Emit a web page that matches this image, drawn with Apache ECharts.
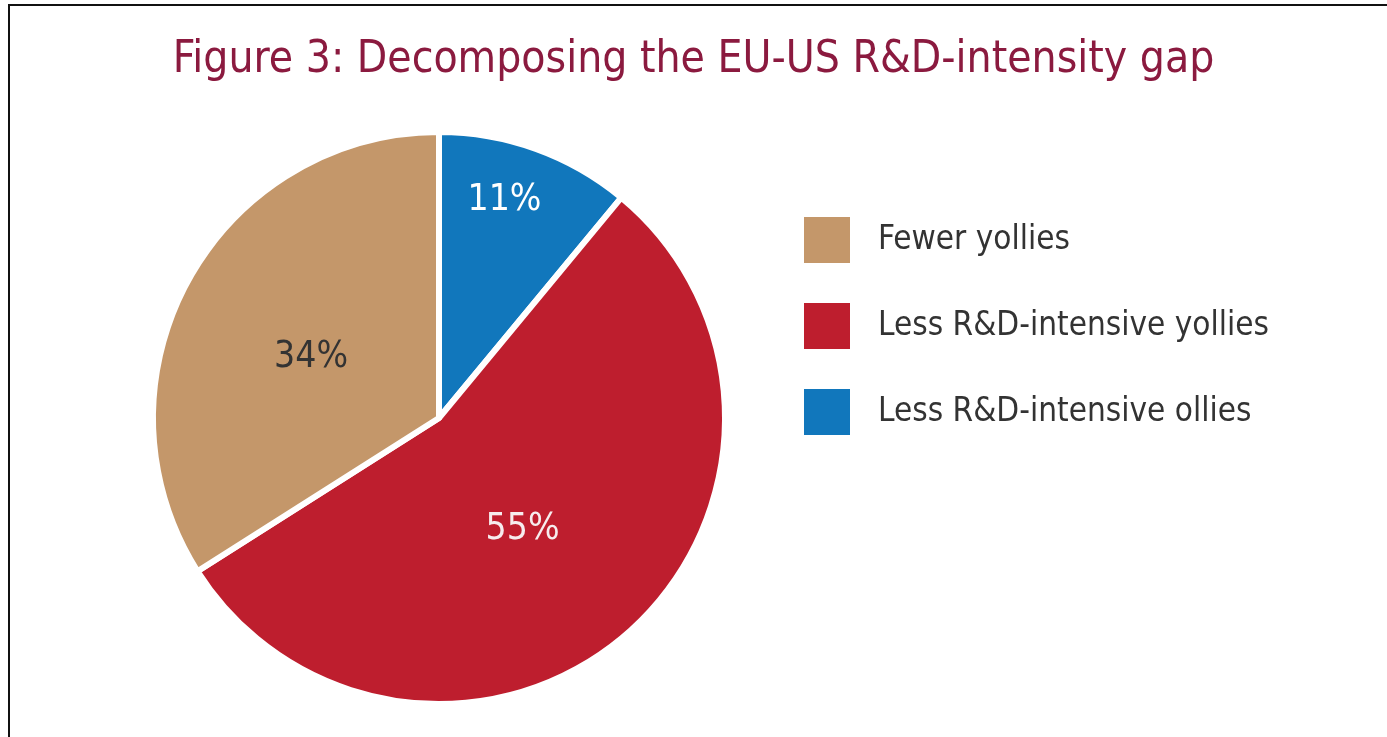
<!DOCTYPE html>
<html>
<head>
<meta charset="utf-8">
<script src="https://cdn.jsdelivr.net/npm/echarts@6/dist/echarts.min.js"></script>
<style>
html,body{margin:0;padding:0;background:#fff;}
#chart{width:1387px;height:737px;}
</style>
</head>
<body>
<div id="chart"></div>
<script>
const titleText = 'Figure 3: Decomposing the EU-US R&D-intensity gap';
const categories = ['Less R&D-intensive ollies', 'Less R&D-intensive yollies', 'Fewer yollies'];
const values = [11, 55, 34];
const colors = ['#1177BC', '#BE1E2E', '#C4976A'];
const labelColors = ['#FFFFFF', '#F7ECEE', '#333333'];
const legendOrder = ['Fewer yollies', 'Less R&D-intensive yollies', 'Less R&D-intensive ollies'];

const FONT = "'Liberation Sans Narrow', 'DejaVu Sans Condensed', 'Liberation Sans', sans-serif";

const chart = echarts.init(document.getElementById('chart'), null, {renderer: 'canvas'});
const option = {
  backgroundColor: '#fff',
  animation: false,
  title: {
    text: titleText,
    left: 'center',
    top: 39,
    padding: 0,
    textStyle: {color: '#8B1A3F', fontSize: 44, fontWeight: 'normal', fontFamily: FONT}
  },
  graphic: [{
    type: 'rect',
    shape: {x: 9, y: 5, width: 1400, height: 800},
    style: {fill: 'none', stroke: '#111', lineWidth: 2},
    silent: true,
    z: -1
  }],
  legend: {
    orient: 'vertical',
    left: 802,
    top: 215,
    padding: 0,
    data: legendOrder,
    icon: 'rect',
    itemWidth: 48,
    itemHeight: 48,
    itemGap: 36,
    textStyle: {color: '#333', fontSize: 33, fontFamily: FONT, padding: [0, 0, 0, 22]},
    selectedMode: false
  },
  series: [{
    type: 'pie',
    center: [439, 418],
    radius: [0, 286],
    startAngle: 90,
    clockwise: true,
    silent: true,
    itemStyle: {borderColor: '#fff', borderWidth: 6},
    label: {
      show: true,
      position: 'inside',
      formatter: '{c}%',
      fontSize: 37,
      fontFamily: FONT
    },
    labelLine: {show: false},
    labelLayout: function (p) {
      if (p.dataIndex === 0) return {dx: 16, dy: -80};
      if (p.dataIndex === 2) return {dx: 0, dy: 10};
      return {dx: -13, dy: 2};
    },
    data: categories.map((n, i) => ({
      name: n,
      value: values[i],
      itemStyle: {color: colors[i]},
      label: {color: labelColors[i]}
    }))
  }]
};
chart.setOption(option);
</script>
</body>
</html>
